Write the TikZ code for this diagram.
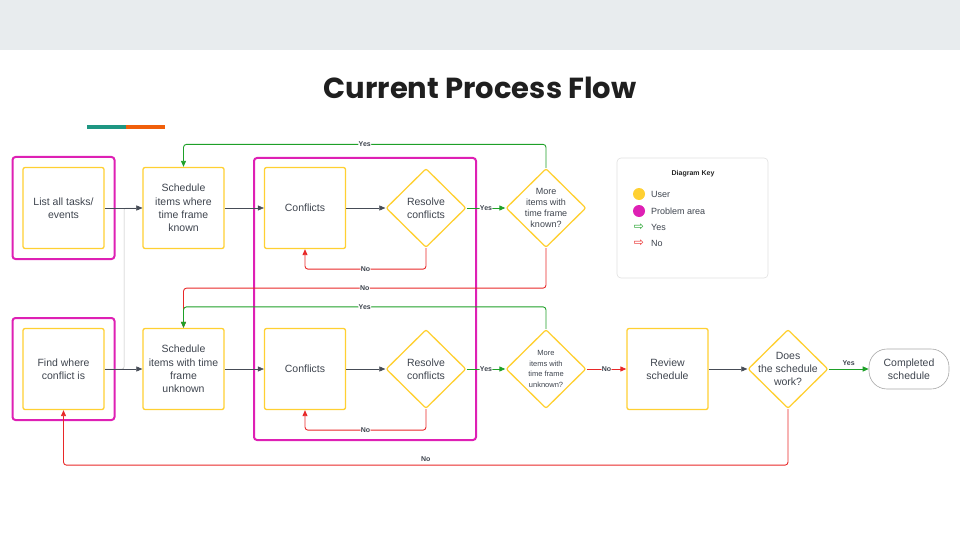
\documentclass[tikz,border=0pt]{standalone}
\usepackage{fontspec}
\setmainfont{Liberation Sans}
\newfontfamily\titlefont{Poppins}
\newfontfamily\symfont{DejaVu Sans}
\usetikzlibrary{positioning,arrows.meta,shapes.geometric}

\definecolor{userylw}{RGB}{255,208,50}
\definecolor{probmag}{RGB}{222,32,180}
\definecolor{yesgrn}{RGB}{30,160,40}
\definecolor{nored}{RGB}{232,40,40}
\definecolor{txtgray}{RGB}{62,68,78}
\definecolor{linegray}{RGB}{70,76,86}
\definecolor{bandgray}{RGB}{232,236,238}
\definecolor{accteal}{RGB}{30,150,130}
\definecolor{accorange}{RGB}{240,95,10}

\tikzset{
  task/.style={draw=userylw, line width=1.3pt, rounded corners=2pt, minimum width=81pt, minimum height=81pt,
    align=center, text=txtgray, font=\fontsize{10.5}{13.3}\selectfont, inner sep=1pt},
  decision/.style={diamond, draw=userylw, line width=1.3pt, rounded corners=2pt, minimum width=80pt,
    minimum height=79pt, inner sep=0pt},
  dtext/.style={align=center, text=txtgray, inner sep=0pt},
  problem/.style={draw=probmag, line width=2pt, rounded corners=3pt, minimum width=102pt, minimum height=102pt},
  flow/.style={draw=linegray, line width=0.5pt, -{Triangle[length=6pt,width=5pt]}},
  yesflow/.style={draw=yesgrn, line width=0.9pt, rounded corners=3pt, -{Triangle[length=6pt,width=5pt]}},
  noflow/.style={draw=nored, line width=0.9pt, rounded corners=3pt, -{Triangle[length=6pt,width=5pt]}},
  tag/.style={font=\bfseries\fontsize{7}{8}\selectfont, text=txtgray, fill=white, inner sep=0.5pt},
  keytext/.style={font=\fontsize{9}{10}\selectfont, text=txtgray, inner sep=0pt},
}

\begin{document}
\begin{tikzpicture}[x=1pt,y=-1pt]
\useasboundingbox (0,0) rectangle (960,540);
\fill[bandgray] (0,0) rectangle (960,50);
\fill[accteal] (87,125) rectangle (126,129);
\fill[accorange] (126,125) rectangle (165,129);
\node[font=\titlefont\bfseries\fontsize{29}{32}\selectfont, text=black!88] (title) at (480,88) {Current Process Flow};

\node[problem] (listarea) at (63.5,208) {};
\node[problem] (findarea) at (63.5,369) {};
\draw[problem] (254,158) rectangle (476,440);

\node[task] (list) at (63.5,208) {List all tasks/\\events};
\node[task] (known) at (183.5,208) {Schedule\\items where\\time frame\\known};
\node[task] (conf1) at (305,208) {Conflicts};
\node[decision, label={[dtext, font=\fontsize{10.5}{13.3}\selectfont]center:Resolve\\conflicts}] (res1) at (426,208) {};
\node[decision, label={[dtext, font=\fontsize{9}{11}\selectfont]center:More\\items with\\time frame\\known?}] (more1) at (546,208) {};

\node[task] (find) at (63.5,369) {Find where\\conflict is};
\node[task] (unknown) at (183.5,369) {Schedule\\items with time\\frame\\unknown};
\node[task] (conf2) at (305,369) {Conflicts};
\node[decision, label={[dtext, font=\fontsize{10.5}{13.3}\selectfont]center:Resolve\\conflicts}] (res2) at (426,369) {};
\node[decision, label={[dtext, font=\fontsize{7.5}{10.5}\selectfont]center:More\\items with\\time frame\\unknown?}] (more2) at (546,369) {};
\node[task] (review) at (667.5,369) {Review\\schedule};
\node[decision, label={[dtext, font=\fontsize{10.5}{13.3}\selectfont]center:Does\\the schedule\\work?}] (works) at (788,369) {};
\node[draw=gray!70, line width=0.6pt, rounded corners=18pt, minimum width=80pt, minimum height=40pt,
  align=center, text=txtgray, font=\fontsize{10.5}{13.3}\selectfont] (done) at (909,369) {Completed\\schedule};

\coordinate (split) at (124,369);
\draw[flow, draw=gray!50, rounded corners=2pt] (find.east) -- (split) |- (known.west);
\draw[flow] (list) -- (known);
\draw[flow] (find) -- (unknown);
\draw[flow] (known) -- (conf1);
\draw[flow] (conf1) -- (res1);
\draw[noflow] (res1.south) -- ++(0,21) -| node[tag, pos=0.25] {No} (conf1.south);
\draw[yesflow] (res1) -- node[tag] {Yes} (more1);
\draw[yesflow] (more1.north) -- ++(0,-23.5) -| node[tag, pos=0.25] {Yes} (known.north);
\draw[noflow] (more1.south) -- ++(0,40) -| node[tag, pos=0.25] {No} (unknown.north);
\draw[yesflow] (more2.north) -- ++(0,-22) -| node[tag, pos=0.25] {Yes} (unknown.north);

\draw[flow] (unknown) -- (conf2);
\draw[flow] (conf2) -- (res2);
\draw[noflow] (res2.south) -- ++(0,21) -| node[tag, pos=0.25] {No} (conf2.south);
\draw[yesflow] (res2) -- node[tag] {Yes} (more2);
\draw[noflow] (more2) -- node[tag] {No} (review);
\draw[flow] (review) -- (works);
\draw[yesflow] (works) -- node[tag, fill=none, above=2pt] {Yes} (done);
\draw[noflow] (works.south) -- ++(0,56) -| node[tag, fill=none, pos=0.25, above=3pt] {No} (find.south);

\node[draw=gray!25, line width=0.6pt, rounded corners=4pt, minimum width=151pt, minimum height=120pt] (key) at (692.5,218) {};
\node[font=\bfseries\fontsize{7}{8}\selectfont, text=black!85] (keytitle) at (693,174) {Diagram Key};
\node[circle, fill=userylw, minimum size=12pt, inner sep=0pt] (userdot) at (639,194) {};
\node[keytext, anchor=west] (userlbl) at (651,194) {User};
\node[circle, fill=probmag, minimum size=12pt, inner sep=0pt] (probdot) at (639,211) {};
\node[keytext, anchor=west] (problbl) at (651,211) {Problem area};
\node[text=yesgrn, font=\symfont\fontsize{12}{12}\selectfont, inner sep=0pt] (yesmark) at (639,227) {⇨};
\node[keytext, anchor=west] (yeslbl) at (651,227) {Yes};
\node[text=nored, font=\symfont\fontsize{12}{12}\selectfont, inner sep=0pt] (nomark) at (639,243) {⇨};
\node[keytext, anchor=west] (nolbl) at (651,243) {No};
\end{tikzpicture}
\end{document}
